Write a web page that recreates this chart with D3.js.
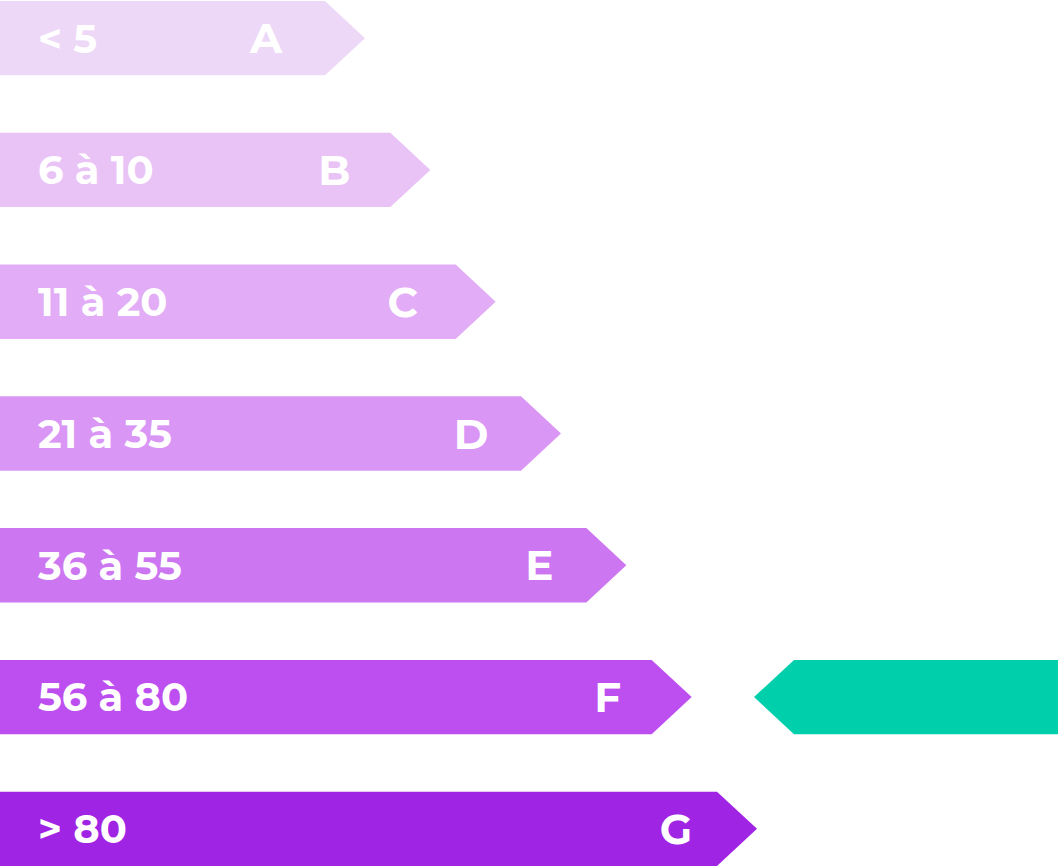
<!DOCTYPE html>
<html>
<head>
<meta charset="utf-8">
<script src="https://d3js.org/d3.v7.min.js"></script>
<style>
  body { margin: 0; background: #fff; }
  text { font-family: "Montserrat", "Inter", "Open Sans", sans-serif; font-weight: 700; fill: #fff; }
</style>
</head>
<body>
<script>
"use strict";

// Energy classes, their ranges and bar colours
var classes = ["A", "B", "C", "D", "E", "F", "G"];
var ranges = ["< 5", "6 à 10", "11 à 20", "21 à 35", "36 à 55", "56 à 80", "> 80"];
var colors = ["#eed8f7", "#e9c3f6", "#e2adf6", "#da96f5", "#cc77f1", "#bd4ef0", "#a024e4"];
var current = "F";

var width = 1058, height = 868;
var tip = 40;

var svg = d3.select("body").append("svg")
    .attr("width", width)
    .attr("height", height);

var y = d3.scaleBand()
    .domain(classes)
    .range([1, 866])
    .paddingInner(0.436)
    .paddingOuter(0);

var x = d3.scaleLinear()
    .domain([0, classes.length - 1])
    .range([325, 717]);

function arrowRight(len, h) {
  return "M0,0H" + len + "L" + (len + tip) + "," + (h / 2) + "L" + len + "," + h + "H0Z";
}

var rows = svg.selectAll("g.row")
    .data(classes)
    .enter().append("g")
    .attr("class", "row")
    .attr("transform", function(d) { return "translate(0," + y(d) + ")"; });

rows.append("path")
    .attr("d", function(d, i) { return arrowRight(x(i), y.bandwidth()); })
    .attr("fill", function(d, i) { return colors[i]; });

rows.append("text")
    .attr("x", 38)
    .attr("y", y.bandwidth() / 2)
    .attr("dy", "0.36em")
    .style("font-size", "40px")
    .text(function(d, i) { return ranges[i]; });

rows.append("text")
    .attr("x", function(d, i) { return x(i) - 59 + i * 3; })
    .attr("y", y.bandwidth() / 2)
    .attr("dy", "0.36em")
    .attr("text-anchor", "middle")
    .style("font-size", "42px")
    .text(function(d) { return d; });

// Indicator for the current class
var h = y.bandwidth();
svg.append("path")
    .attr("transform", "translate(0," + y(current) + ")")
    .attr("d", "M" + width + ",0H794L754," + (h / 2) + "L794," + h + "H" + width + "Z")
    .attr("fill", "#00cfac");
</script>
</body>
</html>
